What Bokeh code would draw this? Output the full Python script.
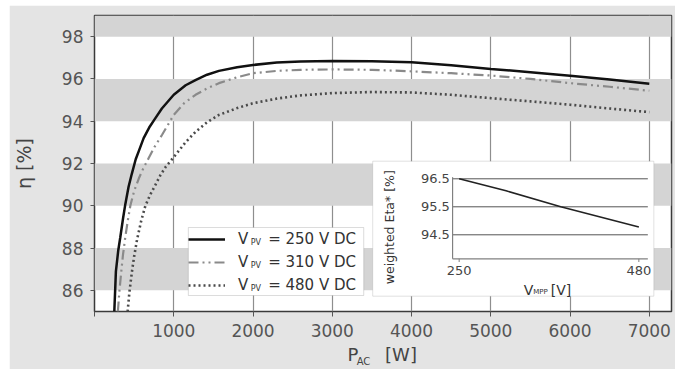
import math
from bokeh.plotting import figure
from bokeh.models import Range1d, FixedTicker, BoxAnnotation, Label, Legend, LegendItem, LinearAxis
from bokeh.embed import file_html
from bokeh.resources import INLINE

# ---------------- data ----------------
p_250 = [250, 270, 300, 325, 360, 390, 430, 470, 520, 560, 620, 690, 760, 850, 1000, 1150,
         1280, 1420, 1570, 1800, 2000, 2300, 2600, 3000, 3500, 4000, 4500, 5000, 5500, 6000, 6500, 7000]
eta_250 = [85.0, 86.9, 87.9, 88.5, 89.4, 90.1, 90.9, 91.5, 92.2, 92.6, 93.2, 93.7, 94.1, 94.6, 95.25, 95.7,
           95.96, 96.2, 96.38, 96.55, 96.66, 96.78, 96.83, 96.85, 96.84, 96.79, 96.65, 96.47, 96.32, 96.15, 95.97, 95.77]

p_310 = [295, 315, 338, 360, 388, 420, 452, 500, 560, 620, 684, 760, 853, 930, 1000, 1130,
         1275, 1420, 1570, 1800, 2000, 2300, 2600, 3000, 3500, 4000, 4500, 5000, 5500, 6000, 6500, 7000]
eta_310 = [85.0, 86.0, 86.9, 87.7, 88.5, 89.3, 90.0, 90.7, 91.3, 91.8, 92.26, 92.8, 93.36, 93.85, 94.3, 94.85,
           95.25, 95.55, 95.8, 96.08, 96.27, 96.38, 96.43, 96.45, 96.43, 96.36, 96.27, 96.16, 96.0, 95.8, 95.63, 95.44]

p_480 = [418, 440, 473, 500, 537, 590, 642, 700, 770, 832, 900, 1000, 1148, 1275, 1420, 1570,
         1800, 2000, 2300, 2600, 3000, 3500, 4000, 4500, 5000, 5500, 6000, 6500, 7000]
eta_480 = [85.0, 85.9, 86.9, 87.6, 88.4, 89.3, 90.0, 90.5, 91.0, 91.45, 91.85, 92.3, 93.0, 93.5, 93.95, 94.3,
           94.62, 94.85, 95.07, 95.22, 95.33, 95.38, 95.36, 95.25, 95.09, 94.94, 94.78, 94.6, 94.43]

x_ticks = [0, 1000, 2000, 3000, 4000, 5000, 6000, 7000]
y_ticks = [86, 88, 90, 92, 94, 96, 98]
legend_volts = ["250", "310", "480"]

inset_v = [250, 310, 380, 480]
inset_eta = [96.5, 96.07, 95.5, 94.78]
inset_yticks = [94.5, 95.5, 96.5]
inset_xticks = [250, 480]

# ---------------- layout constants (page pixels) ----------------
FONT = "DejaVu Sans"
OFF_X, OFF_Y = 9, 5                 # canvas origin on the page
W, H = 675 - OFF_X, 369 - OFF_Y
FL, FR, FT, FB = 93, 671, 15, 311   # frame edges on the page
X0, X1 = 0, 7280
Y0, Y1 = 85, 99


def fxp(px):  # page x pixel -> main data x
    return X0 + (px - FL) * (X1 - X0) / (FR - FL)


def fyp(py):  # page y pixel -> main data y
    return Y0 + (FB - py) * (Y1 - Y0) / (FB - FT)


p = figure(width=W, height=H, x_range=Range1d(X0, X1), y_range=Range1d(Y0, Y1),
           output_backend="svg", toolbar_location=None,
           min_border_left=FL - OFF_X, min_border_right=675 - FR,
           min_border_top=FT - OFF_Y, min_border_bottom=369 - FB,
           styles={"margin-left": f"{OFF_X}px", "margin-top": f"{OFF_Y}px"})
p.background_fill_color = "white"
p.border_fill_color = "#e4e4e4"
p.outline_line_color = "#3a3a3a"
p.outline_line_width = 1.5

# axes
p.xaxis.ticker = FixedTicker(ticks=x_ticks)
p.xaxis.major_label_overrides = {0: ""}
p.yaxis.ticker = FixedTicker(ticks=y_ticks)
for ax in (p.xaxis[0], p.yaxis[0]):
    ax.axis_line_color = None
    ax.major_tick_line_color = "#555555"
    ax.major_tick_in = 0
    ax.minor_tick_line_color = None
    ax.major_label_text_font = FONT
    ax.major_label_text_font_size = "17px"
    ax.major_label_text_color = "#555555"
p.xaxis.major_tick_out = 5
p.xaxis.major_label_standoff = 7
p.yaxis.major_tick_out = 4
p.yaxis.major_label_standoff = 7
p.yaxis.axis_label = "\u03b7 [%]"
p.yaxis.axis_label_standoff = 24
p.yaxis.axis_label_text_font = FONT
p.yaxis.axis_label_text_font_size = "19px"
p.yaxis.axis_label_text_font_style = "normal"
p.yaxis.axis_label_text_color = "#444444"

# x-axis title "P_AC [W]" built from two label-only axes
x_p, x_w, x_ac = round(fxp(352)), round(fxp(400)), round(fxp(362.5))
title_axis = LinearAxis(ticker=FixedTicker(ticks=[x_p, x_w]), major_label_overrides={x_p: "P", x_w: "[W]"},
                        axis_line_color=None, major_tick_line_color=None, minor_tick_line_color=None,
                        major_tick_out=0, major_tick_in=0, major_label_standoff=4,
                        major_label_text_font=FONT, major_label_text_font_size="18px",
                        major_label_text_color="#444444")
sub_axis = LinearAxis(ticker=FixedTicker(ticks=[x_ac]), major_label_overrides={x_ac: "AC"},
                      axis_line_color=None, major_tick_line_color=None, minor_tick_line_color=None,
                      major_tick_out=0, major_tick_in=0, major_label_standoff=-12,
                      major_label_text_font=FONT, major_label_text_font_size="10px",
                      major_label_text_color="#444444")
p.add_layout(title_axis, "below")
p.add_layout(sub_axis, "below")

# grids
p.xgrid.ticker = FixedTicker(ticks=x_ticks)
p.xgrid.grid_line_color = "#8e8e8e"
p.xgrid.grid_line_width = 1.2
p.ygrid.ticker = FixedTicker(ticks=[Y0] + y_ticks + [Y1])
p.ygrid.grid_line_color = None
p.ygrid.band_fill_color = "#d4d4d4"
p.ygrid.band_fill_alpha = 1.0

# main curves
r1 = p.line(p_250, eta_250, line_color="#111111", line_width=2.5)
r2 = p.line(p_310, eta_310, line_color="#8a8a8a", line_width=2.2, line_dash="10 4 2 4 2 4")
r3 = p.line(p_480, eta_480, line_color="#4a4a4a", line_width=2.6, line_dash="2 3")

# legend: white box drawn as an annotation, transparent legend on top, label texts in between
LEG_PAD, LEG_LH, LEG_SP = 1, 20, 3
LEG_X, LEG_Y = 94, 16
leg_h = 2 * LEG_PAD + 3 * LEG_LH + 2 * LEG_SP
p.add_layout(BoxAnnotation(left=fxp(FL + LEG_X), right=fxp(362.7), bottom=fyp(FB - LEG_Y),
                           top=fyp(FB - LEG_Y - leg_h), fill_color="white", fill_alpha=1.0,
                           line_color="#8c8c8c", line_width=1))
for i, volt in enumerate(legend_volts):
    row_py = FB - (LEG_Y + leg_h - (LEG_PAD + LEG_LH / 2 + i * (LEG_LH + LEG_SP)))
    p.add_layout(Label(x=fxp(249.5), y=fyp(row_py + 4), text="PV", text_font=FONT,
                       text_font_size="8px", text_color="#333333", text_baseline="middle"))
    p.add_layout(Label(x=fxp(267), y=fyp(row_py), text=f"= {volt} V DC", text_font=FONT,
                       text_font_size="15px", text_color="#333333", text_baseline="middle"))
legend = Legend(items=[LegendItem(label="V", renderers=[r]) for r in (r1, r2, r3)],
                location=(LEG_X, LEG_Y), margin=0, padding=LEG_PAD, spacing=LEG_SP,
                label_height=LEG_LH, glyph_height=LEG_LH, glyph_width=37,
                label_standoff=13, label_width=121,
                border_line_color=None, background_fill_alpha=0.0,
                label_text_font=FONT, label_text_font_size="15px", label_text_color="#333333")
p.add_layout(legend)

# ---------------- inset ----------------
# inset pixel anchors on the page: V 250 -> x 458.3, V 480 -> x 638.3; eta 94.5 -> y 234.3, 96.5 -> y 178.3
IA_PX0, IA_PX1, IA_V0, IA_V1 = 458.3, 638.3, 250, 480
IA_PY0, IA_PY1, IA_E0, IA_E1 = 234.3, 178.3, 94.5, 96.5


def ivx(px):
    return IA_V0 + (px - IA_PX0) * (IA_V1 - IA_V0) / (IA_PX1 - IA_PX0)


def ivy(py):
    return IA_E0 + (py - IA_PY0) * (IA_E1 - IA_E0) / (IA_PY1 - IA_PY0)


p.extra_x_ranges = {"ix": Range1d(ivx(FL), ivx(FR))}
p.extra_y_ranges = {"iy": Range1d(ivy(FB), ivy(FT))}

p.add_layout(BoxAnnotation(left=fxp(371.7), right=fxp(653.3), bottom=fyp(295.7), top=fyp(160.7),
                           fill_color="white", fill_alpha=1.0, line_color="#9a9a9a", line_width=1))

IX0, IX1, IY0, IY1 = ivx(451.7), ivx(647.3), ivy(258.3), ivy(176.7)
kw = dict(x_range_name="ix", y_range_name="iy", level="overlay")
p.segment(x0=[IX0] * len(inset_yticks), y0=inset_yticks, x1=[IX1] * len(inset_yticks), y1=inset_yticks,
          line_color="#555555", line_width=1, **kw)
p.segment(x0=[IX0, IX0], y0=[IY0, IY0], x1=[IX0, IX1], y1=[IY1, IY0],
          line_color="#808080", line_width=1.2, **kw)
p.segment(x0=inset_xticks, y0=[IY0] * len(inset_xticks), x1=inset_xticks,
          y1=[ivy(261.5)] * len(inset_xticks), line_color="#808080", line_width=1, **kw)
p.line(inset_v, inset_eta, line_color="#222222", line_width=1.6, **kw)

lk = dict(x_range_name="ix", y_range_name="iy", text_font=FONT)
for t in inset_yticks:
    p.add_layout(Label(x=ivx(449), y=t, text=f"{t}", text_align="right", text_baseline="middle",
                       text_font_size="13px", text_color="#444444", **lk))
for t in inset_xticks:
    p.add_layout(Label(x=t, y=ivy(269.5), text=f"{t}", text_align="center", text_baseline="middle",
                       text_font_size="13px", text_color="#444444", **lk))
p.add_layout(Label(x=ivx(388.3), y=ivy(226.7), text="weighted Eta* [%]", angle=math.pi / 2,
                   text_align="center", text_baseline="middle", text_font_size="12.5px",
                   text_color="#333333", **lk))
p.add_layout(Label(x=ivx(523), y=ivy(289.5), text="V", text_font_size="14px", text_color="#333333",
                   text_baseline="alphabetic", **lk))
p.add_layout(Label(x=ivx(532.5), y=ivy(291), text="MPP", text_font_size="7px", text_color="#333333",
                   text_baseline="alphabetic", **lk))
p.add_layout(Label(x=ivx(550), y=ivy(289.5), text="[V]", text_font_size="14px", text_color="#333333",
                   text_baseline="alphabetic", **lk))

open("out.html", "w").write(file_html(p, INLINE))
